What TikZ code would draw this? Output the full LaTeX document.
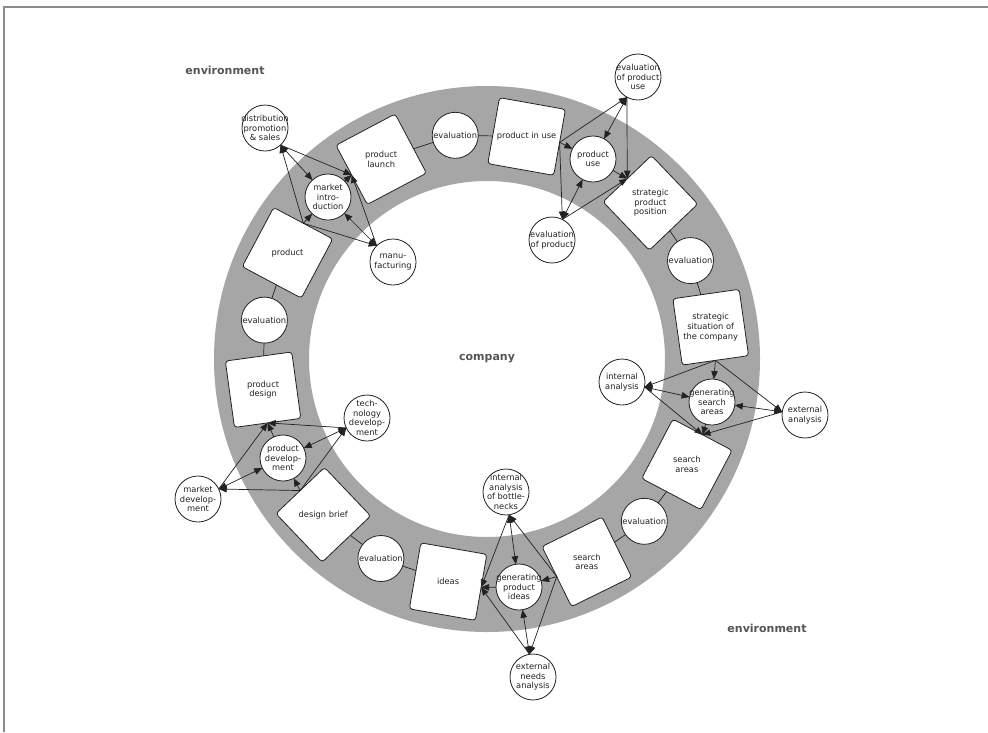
\documentclass[tikz,border=0pt]{standalone}
\usepackage{fontspec}
\setmainfont{DejaVu Sans}
\usetikzlibrary{calc,arrows.meta}
\definecolor{ringgray}{HTML}{A6A6A6}
\definecolor{framegray}{HTML}{8C8C8C}
\definecolor{ink}{HTML}{222222}
\definecolor{labelgray}{HTML}{555555}
\begin{document}
\begin{tikzpicture}[x=1pt,y=-1pt,
  stepbox/.style={draw=ink,line width=0.8pt,fill=white,rounded corners=3pt,
    minimum size=67pt,inner sep=0pt,outer sep=0pt},
  bubble/.style={circle,draw=ink,line width=0.8pt,fill=white,
    minimum size=46pt,inner sep=0pt,outer sep=0pt},
  caption/.style={align=center,inner sep=0pt,text=ink,
    font=\fontsize{8.3}{9.6}\selectfont},
  link/.style={draw=ink,line width=0.7pt},
  flow/.style={link,-{Triangle[length=8pt,width=6.5pt]}},
  mutual/.style={link,{Triangle[length=8pt,width=6.5pt]}-{Triangle[length=8pt,width=6.5pt]}},
  region/.style={text=labelgray,font=\bfseries\fontsize{11}{13}\selectfont}
]
\useasboundingbox (0,0) rectangle (988,732);
\fill[white] (0,0) rectangle (988,732);
\draw[framegray,line width=1.5pt] (4,732) -- (4,7) -- (988,7);

% the ring of development stages
\coordinate (c) at (487,359);
\fill[ringgray,even odd rule] (c) circle[radius=273] (c) circle[radius=178];

% stages (squares) and evaluations on the ring
\node[stepbox,rotate=27.9]   (launch)  at (381.2,159.2) {};
\node[bubble]                (eval1)   at (455.2,135.3) {};
\node[stepbox,rotate=-10.1]  (inuse)   at (526.6,136.5) {};
\node[stepbox,rotate=-46.3]  (spp)     at (650.4,202.9) {};
\node[bubble]                (eval2)   at (690.5,260.6) {};
\node[stepbox,rotate=-81.9]  (ssc)     at (710.7,327.2) {};
\node[stepbox,rotate=-117.8] (areasA)  at (686.9,464.4) {};
\node[bubble]                (eval3)   at (644.3,521.3) {};
\node[stepbox,rotate=-153.8] (areasB)  at (586.8,561.8) {};
\node[stepbox,rotate=170.1]  (ideas)   at (448.1,581.6) {};
\node[bubble]                (eval4)   at (380.9,558.5) {};
\node[stepbox,rotate=133.6]  (brief)   at (323.3,514.8) {};
\node[stepbox,rotate=97.8]   (pdesign) at (263.1,389.7) {};
\node[bubble]                (eval5)   at (264.4,320.1) {};
\node[stepbox,rotate=62]     (product) at (287.5,252.8) {};

\node[caption] (launch-t)  at (launch)  {product\\launch};
\node[caption] (eval1-t)   at (eval1)   {evaluation};
\node[caption] (inuse-t)   at (inuse)   {product in use};
\node[caption] (spp-t)     at (spp)     {strategic\\product\\position};
\node[caption] (eval2-t)   at (eval2)   {evaluation};
\node[caption] (ssc-t)     at (ssc)     {strategic\\situation of\\the company};
\node[caption] (areasA-t)  at (areasA)  {search\\areas};
\node[caption] (eval3-t)   at (eval3)   {evaluation};
\node[caption] (areasB-t)  at (areasB)  {search\\areas};
\node[caption] (ideas-t)   at (ideas)   {ideas};
\node[caption] (eval4-t)   at (eval4)   {evaluation};
\node[caption] (brief-t)   at (brief)   {design brief};
\node[caption] (pdesign-t) at (pdesign) {product\\design};
\node[caption] (eval5-t)   at (eval5)   {evaluation};
\node[caption] (product-t) at (product) {product};

% plain links along the ring
\draw[link] (launch) -- (eval1);
\draw[link] (eval1) -- (inuse);
\draw[link] (spp) -- (eval2);
\draw[link] (eval2) -- (ssc);
\draw[link] (areasA) -- (eval3);
\draw[link] (eval3) -- (areasB);
\draw[link] (ideas) -- (eval4);
\draw[link] (eval4) -- (brief);
\draw[link] (pdesign) -- (eval5);
\draw[link] (eval5) -- (product);

% activity circles
\node[bubble] (dps)  at (265,128) {};
\node[bubble] (mi)   at (328,197) {};
\node[bubble] (manu) at (393,262) {};
\node[bubble] (epu)  at (638,77)  {};
\node[bubble] (pu)   at (593,159) {};
\node[bubble] (ep)   at (552,240) {};
\node[bubble] (ia)   at (622,382) {};
\node[bubble] (gsa)  at (712,402) {};
\node[bubble] (ea)   at (805,415) {};
\node[bubble] (iab)  at (506,492) {};
\node[bubble] (gpi)  at (519,587) {};
\node[bubble] (ena)  at (533,677) {};
\node[bubble] (td)   at (367,418) {};
\node[bubble] (pdev) at (283,458) {};
\node[bubble] (md)   at (198,499) {};

\node[caption] (dps-t)  at (dps)  {distribution\\promotion\\\& sales};
\node[caption] (mi-t)   at (mi)   {market\\intro-\\duction};
\node[caption] (manu-t) at (manu) {manu-\\facturing};
\node[caption] (epu-t)  at (epu)  {evaluation\\of product\\use};
\node[caption] (pu-t)   at (pu)   {product\\use};
\node[caption] (ep-t)   at (ep)   {evaluation\\of product};
\node[caption] (ia-t)   at (ia)   {internal\\analysis};
\node[caption] (gsa-t)  at (gsa)  {generating\\search\\areas};
\node[caption] (ea-t)   at (ea)   {external\\analysis};
\node[caption] (iab-t)  at (iab)  {internal\\analysis\\of bottle-\\necks};
\node[caption] (gpi-t)  at (gpi)  {generating\\product\\ideas};
\node[caption] (ena-t)  at (ena)  {external\\needs\\analysis};
\node[caption] (td-t)   at (td)   {tech-\\nology\\develop-\\ment};
\node[caption] (pdev-t) at (pdev) {product\\develop-\\ment};
\node[caption] (md-t)   at (md)   {market\\develop-\\ment};

% each activity cluster: input stage -> side activities and core activity -> output stage
\foreach \in/\out/\core/\sa/\sb in {
    product/launch/mi/dps/manu,
    inuse/spp/pu/epu/ep,
    ssc/areasA/gsa/ia/ea,
    areasB/ideas/gpi/iab/ena,
    brief/pdesign/pdev/td/md} {
  \coordinate (\sa-p) at ($(\sa)!23pt!(\core)$);
  \coordinate (\sb-p) at ($(\sb)!23pt!(\core)$);
  \draw[flow] (\in.east) -- (\core);
  \draw[flow] (\in.east) -- (\sa-p);
  \draw[flow] (\in.east) -- (\sb-p);
  \draw[mutual] (\sa-p) -- (\core);
  \draw[mutual] (\sb-p) -- (\core);
  \draw[flow] (\sa-p) -- (\out.west);
  \draw[flow] (\sb-p) -- (\out.west);
  \draw[flow] (\core) -- (\out.west);
}

% region labels
\node[region] (env-top) at (225,70)  {environment};
\node[region] (env-bot) at (767,628) {environment};
\node[region] (company) at (487,359) {company};
\end{tikzpicture}
\end{document}
